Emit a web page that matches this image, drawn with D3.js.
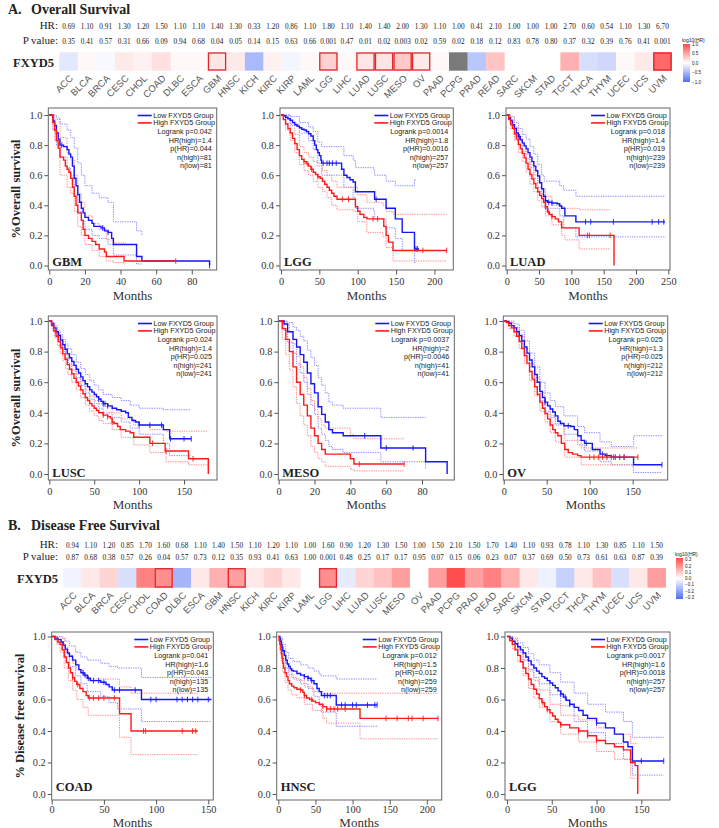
<!DOCTYPE html>
<html>
<head>
<meta charset="utf-8">
<script src="https://cdn.jsdelivr.net/npm/d3@7"></script>
<style>
body { margin: 0; background: #fff; }
svg text { font-family: "Liberation Serif", "Times New Roman", serif; fill: #222; }
svg text.sans { font-family: "Liberation Sans", Arial, sans-serif; }
</style>
</head>
<body>
<script>
// ---- heatmap data ----
var cancers = ["ACC","BLCA","BRCA","CESC","CHOL","COAD","DLBC","ESCA","GBM","HNSC","KICH","KIRC","KIRP","LAML","LGG","LIHC","LUAD","LUSC","MESO","OV","PAAD","PCPG","PRAD","READ","SARC","SKCM","STAD","TGCT","THCA","THYM","UCEC","UCS","UVM"];
var osHR = [0.69,1.10,0.91,1.30,1.20,1.50,1.10,1.10,1.40,1.30,0.33,1.20,0.86,1.10,1.80,1.10,1.40,1.40,2.00,1.30,1.10,1.00,0.41,2.10,1.00,1.00,1.00,2.70,0.60,0.54,1.10,1.30,6.70];
var osP = [0.35,0.41,0.57,0.31,0.66,0.09,0.94,0.68,0.04,0.05,0.14,0.15,0.63,0.66,0.001,0.47,0.01,0.02,0.003,0.02,0.59,0.02,0.18,0.12,0.83,0.78,0.80,0.37,0.32,0.39,0.76,0.41,0.001];
var osSig = ["GBM","LGG","LUAD","LUSC","MESO","OV","UVM"];
var osMissing = ["PCPG"];
var osLegendTicks = [1.0,0.5,0.0,-0.5,-1.0];

var dfsHR = [0.94,1.10,1.20,0.85,1.70,1.60,0.68,1.10,1.40,1.50,1.10,1.20,1.10,1.00,1.60,0.90,1.20,1.30,1.50,1.00,1.50,2.10,1.50,1.70,1.40,1.10,0.93,0.78,1.10,1.30,0.85,1.10,1.50];
var dfsP = [0.87,0.68,0.38,0.57,0.26,0.04,0.57,0.73,0.12,0.35,0.93,0.41,0.63,1.00,0.001,0.48,0.25,0.17,0.17,0.95,0.07,0.15,0.06,0.23,0.07,0.37,0.69,0.50,0.73,0.61,0.63,0.87,0.39];
var dfsSig = ["COAD","HNSC","LGG"];
var dfsLegendTicks = [0.3,0.2,0.1,0.0,-0.1,-0.2,-0.3];

var groupNames = ["Low FXYD5 Group","High FXYD5 Group"];

// ---- survival curves: [months, survival]; CI: [months, upper, lower] ----
var gbmLow = [[0,1],[2,0.96],[3,0.93],[4,0.88],[5,0.84],[6,0.8],[8,0.79],[10,0.77],[11,0.74],[12,0.72],[13,0.66],[14,0.58],[15,0.53],[16,0.47],[17,0.42],[18,0.38],[19,0.35],[20,0.32],[22,0.3],[24,0.28],[25,0.26],[29,0.25],[31,0.23],[33,0.22],[35,0.18],[36,0.14],[48,0.14],[49,0.06],[52,0.03],[90,0.03],[90,0]];
var gbmHigh = [[0,1],[2,0.95],[3,0.9],[4,0.83],[5,0.78],[6,0.72],[8,0.7],[9,0.66],[10,0.64],[11,0.62],[12,0.58],[13,0.52],[14,0.46],[15,0.4],[16,0.35],[18,0.3],[19,0.24],[20,0.2],[22,0.18],[24,0.16],[26,0.14],[28,0.11],[31,0.09],[32,0.06],[36,0.06],[42,0.03],[71,0.03]];
var gbmLowCI = [[0,1,1],[2,1,0.9],[4,0.98,0.8],[6,0.94,0.72],[10,0.9,0.65],[12,0.85,0.6],[14,0.78,0.46],[16,0.68,0.36],[18,0.6,0.3],[20,0.53,0.24],[24,0.48,0.2],[28,0.45,0.18],[33,0.42,0.14],[36,0.29,0.07],[48,0.29,0.07],[49,0.23,0.01],[52,0.2,0.01]];
var gbmHighCI = [[0,1,1],[2,1,0.9],[3,0.97,0.83],[6,0.85,0.6],[10,0.75,0.52],[12,0.7,0.48],[14,0.6,0.36],[16,0.48,0.26],[18,0.42,0.2],[20,0.33,0.14],[24,0.28,0.1],[28,0.24,0.06],[32,0.17,0.03],[36,0.15,0.02],[42,0.15,0.01],[43,0.15,0.01]];
var gbmLowCens = [4,7,30,33,90];
var gbmHighCens = [71];
var gbmStats = ["Logrank p=0.042","HR(high)=1.4","p(HR)=0.044","n(high)=81","n(low)=81"];

var lggLow = [[0,1],[3,0.995],[6,0.985],[9,0.975],[12,0.965],[15,0.95],[18,0.935],[21,0.925],[24,0.915],[27,0.905],[30,0.9],[33,0.89],[36,0.875],[39,0.86],[42,0.83],[44,0.8],[46,0.77],[48,0.75],[50,0.73],[52,0.7],[53,0.68],[77,0.68],[79,0.64],[82,0.6],[86,0.585],[90,0.57],[94,0.555],[97,0.49],[121,0.49],[122,0.44],[136,0.44],[137,0.38],[148,0.38],[149,0.31],[158,0.22],[173,0.22],[174,0.11],[180,0.11]];
var lggHigh = [[0,1],[3,0.97],[6,0.94],[9,0.91],[12,0.88],[15,0.845],[18,0.81],[21,0.77],[24,0.73],[27,0.705],[30,0.69],[33,0.675],[36,0.66],[39,0.64],[42,0.62],[45,0.605],[48,0.59],[51,0.58],[54,0.56],[57,0.54],[60,0.52],[63,0.5],[66,0.48],[69,0.46],[73,0.44],[95,0.44],[97,0.39],[100,0.36],[103,0.34],[108,0.32],[112,0.31],[133,0.31],[134,0.26],[137,0.2],[140,0.155],[146,0.1],[216,0.1]];
var lggLowCI = [[0,1,1],[12,0.99,0.94],[24,0.95,0.88],[36,0.92,0.83],[42,0.89,0.77],[48,0.82,0.68],[53,0.79,0.6],[77,0.79,0.6],[82,0.73,0.52],[94,0.7,0.45],[97,0.65,0.38],[121,0.63,0.36],[122,0.6,0.31],[137,0.56,0.25],[149,0.53,0.18],[158,0.53,0.1],[174,0.57,0.02],[176,0.57,0.02]];
var lggHighCI = [[0,1,1],[6,0.98,0.9],[12,0.93,0.83],[18,0.87,0.75],[24,0.79,0.67],[30,0.75,0.63],[36,0.72,0.6],[42,0.69,0.56],[48,0.66,0.52],[54,0.63,0.49],[60,0.6,0.45],[66,0.56,0.4],[73,0.52,0.37],[95,0.52,0.36],[100,0.47,0.29],[112,0.42,0.22],[133,0.4,0.19],[137,0.36,0.12],[146,0.34,0.03],[216,0.34,0.03]];
var lggLowCens = [55,60,63,67,72,124,176,178];
var lggHighCens = [30,35,40,48,80,88,120,126,185,216];
var lggStats = ["Logrank p=0.0014","HR(high)=1.8","p(HR)=0.0016","n(high)=257","n(low)=257"];

var luadLow = [[0,1],[3,0.98],[6,0.96],[9,0.935],[12,0.91],[15,0.88],[18,0.855],[21,0.835],[24,0.815],[27,0.795],[30,0.775],[33,0.75],[36,0.72],[39,0.69],[42,0.66],[45,0.63],[48,0.595],[51,0.55],[54,0.51],[57,0.46],[60,0.43],[63,0.42],[70,0.415],[78,0.41],[82,0.395],[85,0.38],[90,0.33],[107,0.29],[245,0.29]];
var luadHigh = [[0,1],[3,0.97],[6,0.94],[9,0.91],[12,0.875],[15,0.84],[18,0.805],[21,0.775],[24,0.745],[27,0.715],[30,0.68],[33,0.64],[36,0.605],[39,0.575],[42,0.545],[45,0.515],[48,0.49],[51,0.465],[54,0.445],[57,0.42],[60,0.39],[63,0.355],[66,0.34],[70,0.325],[75,0.31],[80,0.29],[85,0.25],[112,0.2],[166,0.2],[166,0]];
var luadLowCI = [[0,1,1],[6,0.99,0.93],[12,0.95,0.86],[18,0.91,0.8],[24,0.87,0.76],[30,0.84,0.71],[36,0.79,0.65],[42,0.74,0.58],[48,0.67,0.52],[54,0.6,0.44],[58,0.56,0.38],[82,0.53,0.33],[88,0.5,0.25],[107,0.46,0.19],[245,0.46,0.19]];
var luadHighCI = [[0,1,1],[6,0.97,0.91],[12,0.92,0.83],[18,0.86,0.75],[24,0.8,0.69],[30,0.74,0.62],[36,0.67,0.54],[42,0.6,0.49],[48,0.55,0.43],[54,0.51,0.39],[60,0.46,0.33],[70,0.4,0.27],[85,0.39,0.2],[90,0.38,0.17],[112,0.37,0.11],[160,0.37,0.11]];
var luadLowCens = [15,20,60,65,70,122,130,165,225,235,243];
var luadHighCens = [60,65,70,125,128,160];
var luadStats = ["Logrank p=0.018","HR(high)=1.4","p(HR)=0.019","n(high)=239","n(low)=239"];

var luscLow = [[0,1],[2.5,0.98],[5,0.955],[7.5,0.93],[10,0.905],[12.5,0.875],[15,0.845],[17.5,0.815],[20,0.785],[22.5,0.76],[25,0.735],[27.5,0.71],[30,0.685],[32.5,0.66],[35,0.635],[37.5,0.61],[40,0.59],[42.5,0.57],[45,0.55],[47.5,0.535],[50,0.52],[52.5,0.505],[55,0.49],[57.5,0.475],[60,0.46],[65,0.445],[70,0.43],[75,0.42],[80,0.41],[85,0.4],[88,0.37],[92,0.35],[96,0.34],[100,0.32],[125,0.32],[127,0.29],[134,0.23],[158,0.23]];
var luscHigh = [[0,1],[2.5,0.97],[5,0.935],[7.5,0.9],[10,0.865],[12.5,0.825],[15,0.785],[17.5,0.75],[20,0.715],[22.5,0.685],[25,0.655],[27.5,0.625],[30,0.6],[32.5,0.575],[35,0.55],[37.5,0.525],[40,0.5],[42.5,0.48],[45,0.46],[47.5,0.445],[50,0.43],[52.5,0.415],[55,0.4],[60,0.385],[65,0.375],[68,0.365],[70,0.34],[72,0.33],[76,0.31],[79,0.29],[85,0.28],[90,0.27],[94,0.24],[108,0.24],[112,0.2],[127,0.2],[129,0.15],[153,0.15],[155,0.1],[177,0.1],[177,0]];
var luscLowCI = [[0,1,1],[3,0.99,0.96],[6,0.97,0.92],[9,0.94,0.88],[12,0.91,0.84],[15,0.88,0.8],[18,0.85,0.76],[21,0.82,0.72],[25,0.78,0.68],[30,0.73,0.63],[35,0.69,0.58],[40,0.65,0.53],[45,0.61,0.49],[50,0.58,0.46],[55,0.55,0.43],[60,0.52,0.4],[70,0.5,0.37],[80,0.48,0.34],[90,0.45,0.3],[100,0.43,0.26],[127,0.42,0.2],[134,0.42,0.12],[158,0.42,0.12]];
var luscHighCI = [[0,1,1],[3,0.99,0.94],[6,0.96,0.89],[9,0.92,0.84],[12,0.88,0.79],[15,0.83,0.74],[18,0.79,0.69],[21,0.75,0.65],[25,0.71,0.6],[30,0.65,0.55],[35,0.6,0.5],[40,0.55,0.45],[45,0.51,0.41],[50,0.48,0.38],[55,0.46,0.35],[60,0.44,0.33],[70,0.4,0.29],[80,0.36,0.24],[94,0.32,0.19],[112,0.29,0.14],[130,0.28,0.08],[155,0.28,0.06],[177,0.28,0.03]];
var luscLowCens = [55,60,62,65,100,112,125,135,150,158];
var luscHighCens = [60,65,70,115,130,160];
var luscStats = ["Logrank p=0.024","HR(high)=1.4","p(HR)=0.025","n(high)=241","n(low)=241"];

var mesoLow = [[0,1],[3,0.98],[5,0.93],[8,0.88],[10,0.83],[12,0.78],[14,0.73],[16,0.66],[18,0.59],[20,0.53],[22,0.44],[24,0.39],[26,0.34],[28,0.29],[30,0.27],[36,0.25],[57,0.17],[82,0.08],[94,0.08],[94,0]];
var mesoHigh = [[0,1],[2,0.95],[4,0.88],[6,0.8],[8,0.7],[10,0.6],[12,0.52],[14,0.45],[16,0.38],[18,0.3],[20,0.25],[22,0.2],[24,0.16],[26,0.13],[38,0.13],[40,0.1],[42,0.065],[70,0.065]];
var mesoLowCI = [[0,1,1],[3,1,0.94],[5,0.99,0.86],[8,0.96,0.79],[10,0.94,0.72],[12,0.9,0.66],[14,0.87,0.6],[16,0.81,0.52],[18,0.76,0.45],[20,0.71,0.39],[22,0.63,0.3],[24,0.58,0.26],[26,0.53,0.22],[28,0.47,0.18],[30,0.45,0.16],[36,0.43,0.14],[57,0.37,0.08],[82,0.37,0.03]];
var mesoHighCI = [[0,1,1],[2,1,0.88],[4,0.98,0.78],[6,0.93,0.68],[8,0.85,0.57],[10,0.77,0.46],[12,0.7,0.38],[14,0.63,0.32],[16,0.56,0.25],[18,0.48,0.18],[20,0.42,0.14],[22,0.36,0.1],[24,0.32,0.08],[26,0.3,0.05],[40,0.26,0.03],[42,0.23,0.02],[70,0.23,0.02]];
var mesoLowCens = [48,60,75];
var mesoHighCens = [45,70];
var mesoStats = ["Logrank p=0.0037","HR(high)=2","p(HR)=0.0046","n(high)=41","n(low)=41"];

var ovLow = [[0,1],[3,0.995],[6,0.985],[9,0.97],[12,0.955],[15,0.93],[18,0.905],[21,0.87],[24,0.83],[27,0.79],[30,0.745],[33,0.7],[36,0.65],[39,0.6],[42,0.54],[45,0.5],[48,0.47],[51,0.445],[54,0.425],[57,0.405],[60,0.38],[63,0.345],[66,0.33],[70,0.315],[78,0.31],[82,0.29],[86,0.25],[90,0.22],[94,0.2],[101,0.2],[103,0.16],[109,0.16],[112,0.13],[118,0.12],[125,0.11],[150,0.11],[151,0.06],[184,0.06]];
var ovHigh = [[0,1],[3,0.99],[6,0.97],[9,0.955],[12,0.93],[15,0.9],[18,0.865],[21,0.82],[24,0.775],[27,0.725],[30,0.67],[33,0.62],[36,0.57],[39,0.52],[42,0.47],[45,0.43],[48,0.395],[51,0.36],[54,0.32],[57,0.29],[60,0.27],[63,0.25],[67,0.2],[71,0.16],[75,0.14],[80,0.13],[86,0.12],[90,0.11],[156,0.11]];
var ovLowCI = [[0,1,1],[6,1,0.97],[12,0.98,0.93],[18,0.94,0.87],[24,0.87,0.79],[30,0.79,0.7],[36,0.7,0.6],[42,0.6,0.48],[48,0.53,0.41],[54,0.48,0.37],[60,0.44,0.32],[70,0.38,0.26],[86,0.31,0.19],[94,0.27,0.15],[112,0.21,0.08],[125,0.18,0.06],[150,0.18,0.05],[151,0.25,0.01],[184,0.25,0.01]];
var ovHighCI = [[0,1,1],[6,0.99,0.95],[12,0.96,0.9],[18,0.9,0.82],[24,0.82,0.72],[30,0.72,0.61],[36,0.63,0.51],[42,0.53,0.41],[48,0.45,0.34],[54,0.38,0.27],[60,0.33,0.21],[71,0.22,0.11],[90,0.17,0.06],[156,0.17,0.06]];
var ovLowCens = [48,75,96,115,120,128,135,140,184];
var ovHighCens = [100,105,110,115,120,125,130,140,156];
var ovStats = ["Logrank p=0.025","HR(high)=1.3","p(HR)=0.025","n(high)=212","n(low)=212"];

var coadLow = [[0,1],[3,0.99],[6,0.98],[9,0.965],[11,0.945],[13,0.92],[15,0.895],[17,0.875],[20,0.85],[23,0.82],[26,0.79],[28,0.77],[31,0.755],[34,0.735],[37,0.72],[47,0.71],[52,0.695],[55,0.68],[58,0.66],[86,0.6],[153,0.6]];
var coadHigh = [[0,1],[3,0.98],[6,0.965],[8,0.95],[10,0.915],[12,0.87],[14,0.835],[16,0.8],[18,0.77],[20,0.74],[22,0.715],[24,0.695],[27,0.67],[30,0.65],[33,0.625],[35,0.61],[65,0.51],[76,0.4],[140,0.4]];
var coadLowCI = [[0,1,1],[5,1,0.96],[10,0.99,0.92],[13,0.97,0.87],[17,0.94,0.81],[23,0.9,0.75],[28,0.87,0.7],[34,0.85,0.65],[47,0.83,0.62],[55,0.81,0.58],[63,0.8,0.54],[86,0.74,0.46],[153,0.74,0.46]];
var coadHighCI = [[0,1,1],[5,1,0.95],[8,0.99,0.9],[12,0.93,0.8],[16,0.88,0.72],[20,0.83,0.66],[24,0.79,0.6],[30,0.75,0.55],[35,0.73,0.5],[65,0.68,0.36],[76,0.64,0.25],[140,0.64,0.25]];
var coadLowCens = [30,32,35,40,45,50,60,65,80,95,100,120,125,130,135,140,150];
var coadHighCens = [20,25,36,40,45,50,60,88,90,125,135,138];
var coadStats = ["Logrank p=0.041","HR(high)=1.6","p(HR)=0.043","n(high)=135","n(low)=135"];

var hnscLow = [[0,1],[2,0.985],[3,0.97],[4,0.95],[5,0.93],[6,0.91],[8,0.88],[10,0.85],[12,0.825],[14,0.81],[16,0.795],[18,0.785],[20,0.78],[25,0.765],[30,0.755],[35,0.745],[40,0.735],[44,0.72],[48,0.7],[52,0.67],[55,0.65],[58,0.625],[78,0.565],[133,0.565]];
var hnscHigh = [[0,1],[1,0.975],[2,0.95],[3,0.92],[4,0.89],[5,0.86],[6,0.83],[7,0.8],[9,0.77],[11,0.745],[13,0.72],[15,0.7],[18,0.685],[21,0.675],[25,0.665],[30,0.66],[33,0.645],[35,0.625],[38,0.61],[42,0.6],[46,0.59],[50,0.58],[55,0.57],[60,0.555],[65,0.54],[110,0.48],[215,0.48]];
var hnscLowCI = [[0,1,1],[3,0.99,0.94],[6,0.95,0.86],[10,0.9,0.8],[14,0.86,0.76],[20,0.84,0.73],[30,0.82,0.7],[40,0.8,0.67],[48,0.78,0.62],[55,0.76,0.56],[58,0.75,0.52],[78,0.73,0.43],[133,0.73,0.43]];
var hnscHighCI = [[0,1,1],[2,0.98,0.91],[4,0.94,0.84],[6,0.89,0.77],[9,0.83,0.71],[13,0.78,0.66],[18,0.74,0.63],[25,0.72,0.61],[35,0.68,0.57],[46,0.65,0.53],[60,0.64,0.48],[65,0.64,0.45],[110,0.64,0.35],[215,0.64,0.35]];
var hnscLowCens = [35,40,45,62,66,70,85,90,100,105,120,130,133];
var hnscHighCens = [30,35,45,60,65,70,75,80,90,145,160,175,180,195,215];
var hnscStats = ["Logrank p=0.012","HR(high)=1.5","p(HR)=0.012","n(high)=259","n(low)=259"];

var lggDfsLow = [[0,1],[3,0.99],[6,0.97],[9,0.955],[12,0.935],[15,0.915],[18,0.895],[21,0.87],[24,0.845],[27,0.82],[30,0.8],[33,0.78],[36,0.765],[39,0.745],[42,0.735],[45,0.72],[48,0.705],[51,0.69],[54,0.675],[57,0.655],[60,0.635],[63,0.615],[66,0.595],[70,0.57],[75,0.55],[80,0.53],[85,0.5],[90,0.48],[100,0.45],[110,0.42],[120,0.38],[130,0.33],[135,0.3],[140,0.21],[175,0.21]];
var lggDfsHigh = [[0,1],[3,0.975],[6,0.95],[9,0.915],[12,0.88],[15,0.84],[18,0.8],[21,0.765],[24,0.73],[27,0.695],[30,0.665],[33,0.635],[36,0.605],[39,0.58],[42,0.555],[45,0.535],[48,0.515],[51,0.495],[54,0.475],[57,0.455],[60,0.44],[70,0.42],[80,0.4],[90,0.37],[100,0.34],[110,0.32],[120,0.3],[130,0.28],[138,0.2],[143,0.18],[146,0.18],[146,0]];
var lggDfsLowCI = [[0,1,1],[6,0.99,0.95],[12,0.96,0.9],[18,0.93,0.85],[24,0.89,0.79],[30,0.85,0.74],[36,0.82,0.7],[48,0.77,0.63],[60,0.71,0.56],[75,0.64,0.46],[90,0.57,0.39],[110,0.52,0.32],[130,0.46,0.22],[140,0.36,0.12],[175,0.36,0.12]];
var lggDfsHighCI = [[0,1,1],[6,0.98,0.92],[12,0.92,0.84],[18,0.85,0.75],[24,0.78,0.67],[30,0.72,0.61],[36,0.66,0.55],[48,0.57,0.46],[60,0.5,0.38],[80,0.47,0.33],[100,0.42,0.27],[120,0.38,0.22],[138,0.32,0.1],[146,0.32,0.08]];
var lggDfsLowCens = [60,65,70,100,150,175];
var lggDfsHighCens = [40,45,60,80,90,100];
var lggDfsStats = ["Logrank p=0.0017","HR(high)=1.6","p(HR)=0.0018","n(high)=257","n(low)=257"];

var W = 719, H = 828;
var svg = d3.select("body").append("svg").attr("width", W).attr("height", H);

var fmt2 = d3.format(".2f"), fmt3 = d3.format(".3f");

// section titles
function sectionTitle(letter, txt, y) {
    svg.append("text").attr("x", 8).attr("y", y).attr("font-size", 14).attr("font-weight", "bold").text(letter);
    svg.append("text").attr("x", 31).attr("y", y).attr("font-size", 14).attr("font-weight", "bold").text(txt);
}
sectionTitle("A.", "Overall  Survival", 14);
sectionTitle("B.", "Disease Free Survival", 530);

function heatRow(o) {
    var x = d3.scaleBand().domain(cancers).range([o.x0, o.x1]);
    var col = d3.scaleLinear().domain([-o.cmax, 0, o.cmax]).range(["#4d6ef2", "#ffffff", "#ff4a4a"]).clamp(true);
    var g = svg.append("g");

    g.append("text").attr("x", 58).attr("y", o.hrY).attr("text-anchor", "end").attr("font-size", 11).text("HR:");
    g.append("text").attr("x", 58).attr("y", o.pY).attr("text-anchor", "end").attr("font-size", 11).text("P value:");
    g.append("text").attr("x", o.fxX).attr("y", o.top + 15).attr("text-anchor", "end")
        .attr("font-size", 12.5).attr("font-weight", "bold").text("FXYD5");

    g.selectAll(".hr").data(cancers).enter().append("text")
        .attr("x", function (d) { return x(d) + x.bandwidth() / 2; })
        .attr("y", o.hrY).attr("text-anchor", "middle").attr("font-size", 7.3)
        .text(function (d, i) { return fmt2(o.hr[i]); });
    g.selectAll(".pv").data(cancers).enter().append("text")
        .attr("x", function (d) { return x(d) + x.bandwidth() / 2; })
        .attr("y", o.pY).attr("text-anchor", "middle").attr("font-size", 7.3)
        .text(function (d, i) { return o.p[i] < 0.01 ? fmt3(o.p[i]) : fmt2(o.p[i]); });

    g.selectAll(".cell").data(cancers).enter().append("rect")
        .attr("x", function (d) { return x(d); }).attr("y", o.top)
        .attr("width", x.bandwidth() + 0.3).attr("height", o.h)
        .attr("fill", function (d, i) { return o.missing.indexOf(d) >= 0 ? "#7a7a7a" : col(Math.log10(o.hr[i])); });
    g.selectAll(".box").data(o.sig).enter().append("rect")
        .attr("x", function (d) { return x(d) + 0.7; }).attr("y", o.top + 0.7)
        .attr("width", x.bandwidth() - 1.4).attr("height", o.h - 1.4)
        .attr("fill", "none").attr("stroke", "#e3262b").attr("stroke-width", 1.3);

    g.selectAll(".lab").data(cancers).enter().append("text").attr("class", "sans")
        .attr("transform", function (d) { return "translate(" + (x(d) + x.bandwidth() / 2 + 5) + "," + o.labY + ") rotate(-45)"; })
        .attr("text-anchor", "end").attr("font-size", 9.5).style("fill", "#555").text(function (d) { return d; });

    // colour legend
    var ly = d3.scaleLinear().domain([o.cmax, -o.cmax]).range([o.legY0, o.legY1]);
    var gid = "grad" + o.id;
    var grad = svg.append("defs").append("linearGradient").attr("id", gid)
        .attr("x1", 0).attr("y1", 0).attr("x2", 0).attr("y2", 1);
    d3.range(0, 1.001, 0.1).forEach(function (t) {
        grad.append("stop").attr("offset", t).attr("stop-color", col(o.cmax - t * 2 * o.cmax));
    });
    g.append("text").attr("class", "sans").attr("x", o.legX - 1).attr("y", o.legY0 - 2.5).attr("font-size", 5).text("log10(HR)");
    g.append("rect").attr("x", o.legX).attr("y", o.legY0).attr("width", 7).attr("height", o.legY1 - o.legY0)
        .attr("fill", "url(#" + gid + ")");
    g.selectAll(".lt").data(o.legTicks).enter().append("text").attr("class", "sans")
        .attr("x", o.legX + 9).attr("y", function (d) { return ly(d) + 1.6; })
        .attr("font-size", 4.6).text(function (d) { return d3.format(".1f")(d); });
}

heatRow({ id: "os", hr: osHR, p: osP, sig: osSig, missing: osMissing, cmax: 1, x0: 59.3, x1: 671.7,
    top: 52.3, h: 18.4, hrY: 29, pY: 44, labY: 79, fxX: 54,
    legX: 683, legY0: 44, legY1: 82, legTicks: osLegendTicks });
heatRow({ id: "dfs", hr: dfsHR, p: dfsP, sig: dfsSig, missing: [], cmax: 0.33, x0: 63.3, x1: 665.7,
    top: 568, h: 19.7, hrY: 548, pY: 559.5, labY: 596, fxX: 58,
    legX: 676, legY0: 558, legY1: 599, legTicks: dfsLegendTicks });

function stepAt(arr, t) {
    var v = arr[0][1];
    arr.forEach(function (d) { if (d[0] <= t) v = d[1]; });
    return v;
}

function kmPlot(p) {
    var x = d3.scaleLinear().domain([p.xMin, p.xMax]).range([p.x0, p.x1]);
    var y = d3.scaleLinear().domain([0, 1]).range([p.yZero, p.yOne]);
    var g = svg.append("g");

    var line = d3.line().x(function (d) { return x(d[0]); }).y(function (d) { return y(d[1]); }).curve(d3.curveStepAfter);
    var upper = d3.line().x(function (d) { return x(d[0]); }).y(function (d) { return y(d[1]); }).curve(d3.curveStepAfter);
    var lower = d3.line().x(function (d) { return x(d[0]); }).y(function (d) { return y(d[2]); }).curve(d3.curveStepAfter);

    var groups = [
        { data: p.low, ci: p.lowCI, cens: p.lowCens, col: "#1515ff", light: "#7b7bff" },
        { data: p.high, ci: p.highCI, cens: p.highCens, col: "#ff1a1a", light: "#ff7b7b" }
    ];
    groups.forEach(function (s) {
        g.append("path").attr("d", upper(s.ci)).attr("fill", "none").attr("stroke", s.light)
            .attr("stroke-width", 0.9).attr("stroke-dasharray", "1.3,1.1");
        g.append("path").attr("d", lower(s.ci)).attr("fill", "none").attr("stroke", s.light)
            .attr("stroke-width", 0.9).attr("stroke-dasharray", "1.3,1.1");
    });
    groups.forEach(function (s) {
        g.append("path").attr("d", line(s.data)).attr("fill", "none").attr("stroke", s.col).attr("stroke-width", 1.4);
        g.selectAll(null).data(s.cens).enter().append("line")
            .attr("x1", function (t) { return x(t); }).attr("x2", function (t) { return x(t); })
            .attr("y1", function (t) { return y(stepAt(s.data, t)) - 2.8; })
            .attr("y2", function (t) { return y(stepAt(s.data, t)) + 2.8; })
            .attr("stroke", s.col).attr("stroke-width", 0.9);
    });

    g.append("rect").attr("x", p.x0).attr("y", p.y0).attr("width", p.x1 - p.x0).attr("height", p.y1 - p.y0)
        .attr("fill", "none").attr("stroke", "#666").attr("stroke-width", 1);

    var ya = g.append("g").attr("transform", "translate(" + p.x0 + ",0)")
        .call(d3.axisLeft(y).tickValues([0, 0.2, 0.4, 0.6, 0.8, 1]).tickFormat(d3.format(".1f")).tickSize(4).tickPadding(2));
    var xa = g.append("g").attr("transform", "translate(0," + p.y1 + ")")
        .call(d3.axisBottom(x).tickValues(p.ticks).tickSize(4.5).tickPadding(p.tickPad));
    [ya, xa].forEach(function (a) {
        a.select(".domain").remove();
        a.selectAll("line").attr("stroke", "#555");
        a.selectAll("text").attr("font-family", "Liberation Serif, serif").attr("font-size", 10.3).style("fill", "#333");
    });

    g.append("text").attr("x", (p.x0 + p.x1) / 2).attr("y", p.y1 + p.monthsDy).attr("text-anchor", "middle")
        .attr("font-size", 13).style("fill", "#333").text("Months");
    g.append("text").attr("x", p.x0 + 4).attr("y", p.y1 - p.nameDy).attr("font-size", 12.5)
        .attr("font-weight", "bold").text(p.name);
    if (p.ytitle) {
        g.append("text").attr("transform", "translate(" + p.ytitleX + "," + (p.y0 + p.y1) / 2 + ") rotate(-90)")
            .attr("text-anchor", "middle").attr("font-size", 12.5).attr("font-weight", "bold").text(p.ytitle);
    }

    // legend
    var R = p.x1, T = p.y0;
    [0, 1].forEach(function (i) {
        g.append("line").attr("x1", R - 79).attr("x2", R - 65).attr("y1", T + 7.5 + i * 7.4).attr("y2", T + 7.5 + i * 7.4)
            .attr("stroke", groups[i].col).attr("stroke-width", 1.6);
        g.append("text").attr("class", "sans").attr("x", R - 63.5).attr("y", T + 10 + i * 7.4)
            .attr("font-size", 7.2).text(groupNames[i]);
    });
    g.selectAll(null).data(p.stats).enter().append("text").attr("class", "sans")
        .attr("x", R - 5).attr("y", function (d, i) { return T + 26 + i * 8.5; })
        .attr("text-anchor", "end").attr("font-size", 7.2).text(function (d) { return d; });
}

var rowA1 = { y0: 108, y1: 270, yOne: 115, yZero: 265.5, monthsDy: 30, nameDy: 4, tickPad: 3 };
var rowA2 = { y0: 316, y1: 480, yOne: 321, yZero: 474, monthsDy: 29, nameDy: 3, tickPad: 3 };
var rowB = { y0: 632, y1: 800, yOne: 636.5, yZero: 794, monthsDy: 26.5, nameDy: 9, tickPad: 1.5 };

var plots = [
    Object.assign({ name: "GBM", low: gbmLow, high: gbmHigh, lowCI: gbmLowCI, highCI: gbmHighCI, lowCens: gbmLowCens, highCens: gbmHighCens, stats: gbmStats,
        x0: 48.3, x1: 216.7, xMin: -0.56, xMax: 94, ticks: [0, 20, 40, 60, 80], ytitle: "%Overall  survival", ytitleX: 20 }, rowA1),
    Object.assign({ name: "LGG", low: lggLow, high: lggHigh, lowCI: lggLowCI, highCI: lggHighCI, lowCens: lggLowCens, highCens: lggHighCens, stats: lggStats,
        x0: 280, x1: 453.3, xMin: -1.3, xMax: 224.6, ticks: [0, 50, 100, 150, 200] }, rowA1),
    Object.assign({ name: "LUAD", low: luadLow, high: luadHigh, lowCI: luadLowCI, highCI: luadHighCI, lowCens: luadLowCens, highCens: luadHighCens, stats: luadStats,
        x0: 506, x1: 670, xMin: -1.1, xMax: 252.6, ticks: [0, 50, 100, 150, 200, 250] }, rowA1),
    Object.assign({ name: "LUSC", low: luscLow, high: luscHigh, lowCI: luscLowCI, highCI: luscHighCI, lowCens: luscLowCens, highCens: luscHighCens, stats: luscStats,
        x0: 48.3, x1: 217, xMin: -1.1, xMax: 186.7, ticks: [0, 50, 100, 150], ytitle: "%Overall  survival", ytitleX: 20 }, rowA2),
    Object.assign({ name: "MESO", low: mesoLow, high: mesoHigh, lowCI: mesoLowCI, highCI: mesoHighCI, lowCens: mesoLowCens, highCens: mesoHighCens, stats: mesoStats,
        x0: 278.3, x1: 454.3, xMin: -0.2, xMax: 98, ticks: [0, 20, 40, 60, 80] }, rowA2),
    Object.assign({ name: "OV", low: ovLow, high: ovHigh, lowCI: ovLowCI, highCI: ovHighCI, lowCens: ovLowCens, highCens: ovHighCens, stats: ovStats,
        x0: 503.3, x1: 667.7, xMin: -0.5, xMax: 190.7, ticks: [0, 50, 100, 150] }, rowA2),
    Object.assign({ name: "COAD", low: coadLow, high: coadHigh, lowCI: coadLowCI, highCI: coadHighCI, lowCens: coadLowCens, highCens: coadHighCens, stats: coadStats,
        x0: 51.7, x1: 213.3, xMin: 0, xMax: 154.8, ticks: [0, 50, 100, 150], ytitle: "% Disease free survival", ytitleX: 24 }, rowB),
    Object.assign({ name: "HNSC", low: hnscLow, high: hnscHigh, lowCI: hnscLowCI, highCI: hnscHighCI, lowCens: hnscLowCens, highCens: hnscHighCens, stats: hnscStats,
        x0: 276.7, x1: 441.7, xMin: -2.2, xMax: 220, ticks: [0, 50, 100, 150, 200] }, rowB),
    Object.assign({ name: "LGG", low: lggDfsLow, high: lggDfsHigh, lowCI: lggDfsLowCI, highCI: lggDfsHighCI, lowCens: lggDfsLowCens, highCens: lggDfsHighCens, stats: lggDfsStats,
        x0: 505, x1: 670, xMin: -2.2, xMax: 182, ticks: [0, 50, 100, 150] }, rowB)
];
plots.forEach(kmPlot);
</script>
</body>
</html>
